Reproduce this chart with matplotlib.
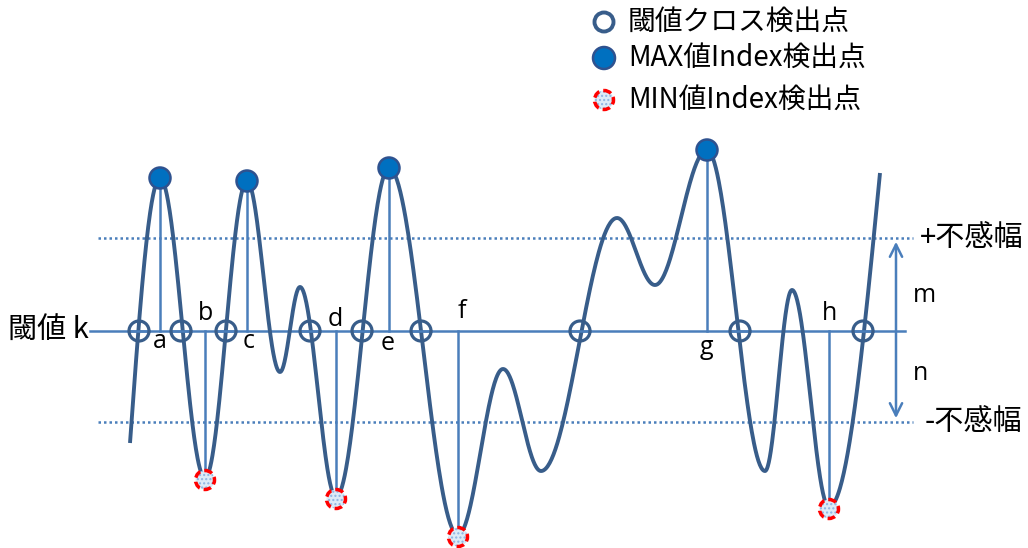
import numpy as np
import matplotlib
matplotlib.use("Agg")
import matplotlib.pyplot as plt
from matplotlib.patches import Circle

plt.rcParams['font.family'] = ['Noto Sans CJK JP', 'DejaVu Sans']

# ---- data (pixel-space diagram coordinates) ----
curve_x = [130, 160, 205, 247, 280, 300, 336, 389, 458, 503, 541, 617, 655, 707, 765, 792, 829, 880]
curve_y = [443, 178, 478, 181, 372, 287, 497, 168, 535, 369, 471, 218, 285, 150, 471, 290, 507, 173]
max_idx = [1, 3, 7, 13]
min_idx = [2, 6, 8, 16]
cross_x = [139, 181, 226, 310, 362, 421, 580, 740, 863]
threshold_y = 331
upper_band_y = 238
lower_band_y = 422
point_labels = ['a', 'b', 'c', 'd', 'e', 'f', 'g', 'h']
label_points = [(160, 342), (205, 314), (249, 342), (335, 320), (388, 343), (462, 312), (706, 348), (830, 314)]
legend_labels = ['閾値クロス検出点', 'MAX値Index検出点', 'MIN値Index検出点']

CURVE = '#385D8A'
LINE = '#4A7EBB'
LATIN = ['Open Sans', 'DejaVu Sans']

fig = plt.figure(figsize=(10.28, 5.48), dpi=100)
ax = fig.add_axes([0, 0, 1, 1])
ax.set_xlim(0, 1028)
ax.set_ylim(548, 0)
ax.axis('off')

# ---- smooth curve between extrema ----
xs_all, ys_all = [], []
n = len(curve_x)
for i in range(n - 1):
    x0, x1 = curve_x[i], curve_x[i + 1]
    y0, y1 = curve_y[i], curve_y[i + 1]
    u = np.linspace(0, 1, 80)
    if i == 0:
        f = np.sin(np.pi / 2 * u)
    elif i == n - 2:
        f = 1 - np.cos(np.pi / 2 * u)
    else:
        f = (1 - np.cos(np.pi * u)) / 2
    xs_all.append(x0 + (x1 - x0) * u)
    ys_all.append(y0 + (y1 - y0) * f)
xs_all = np.concatenate(xs_all)
ys_all = np.concatenate(ys_all)

# bands and threshold
ax.plot([98, 913], [upper_band_y, upper_band_y], color=LINE, lw=1.8, ls=(0, (1, 1.2)), zorder=1)
ax.plot([98, 913], [lower_band_y, lower_band_y], color=LINE, lw=1.8, ls=(0, (1, 1.2)), zorder=1)
ax.plot([90, 905], [threshold_y, threshold_y], color=LINE, lw=1.8, zorder=1)

# vertical lines to extrema
for i in max_idx + min_idx:
    ax.plot([curve_x[i], curve_x[i]], [threshold_y, curve_y[i]], color=LINE, lw=1.8, zorder=1)

ax.plot(xs_all, ys_all, color=CURVE, lw=2.8, zorder=3, solid_capstyle='butt')

# crossing markers
for cx in cross_x:
    ax.add_patch(Circle((cx, threshold_y), 10, facecolor='none', edgecolor=CURVE, lw=2.3, zorder=5))
    ax.plot([cx - 10, cx + 10], [threshold_y, threshold_y], color=LINE, lw=1.8, zorder=4)

def max_marker(x, y, r=10.5):
    ax.add_patch(Circle((x, y), r, facecolor='#0070C0', edgecolor='#2F528F', lw=1.8, zorder=6))

def min_marker(x, y):
    ax.add_patch(Circle((x, y), 9.5, facecolor='#DDEBF7', edgecolor='#8DB4E2', hatch='....', lw=0, zorder=6))
    ax.add_patch(Circle((x, y), 9.5, facecolor='none', edgecolor='#FF0000', lw=2.5, ls=(0, (2.2, 1.2)), zorder=7))

for i in max_idx:
    max_marker(curve_x[i], curve_y[i])
for i in min_idx:
    min_marker(curve_x[i], curve_y[i] + 2)

# point labels
for t, (lx, ly) in zip(point_labels, label_points):
    ax.text(lx, ly, t, fontsize=18, ha='center', va='center', color='black', zorder=8, family=LATIN)

# side texts
ax.text(8, threshold_y, '閾値 k', fontsize=21, ha='left', va='center')
ax.text(920, upper_band_y, '+不感幅', fontsize=21, ha='left', va='center')
ax.text(925, lower_band_y, '-不感幅', fontsize=21, ha='left', va='center')
ax.text(913, 296, 'm', fontsize=18, ha='left', va='center', family=LATIN)
ax.text(913, 373, 'n', fontsize=18, ha='left', va='center', family=LATIN)

# arrow m/n
ax.annotate('', xy=(896, upper_band_y + 1), xytext=(896, lower_band_y - 1),
            arrowprops=dict(arrowstyle='<->', color=LINE, lw=1.8, mutation_scale=22))

# legend
leg_y = [22, 58, 100]
ax.add_patch(Circle((604, leg_y[0]), 9.5, facecolor='white', edgecolor=CURVE, lw=2.8, zorder=6))
max_marker(604, leg_y[1], r=11)
min_marker(604, leg_y[2])
for t, y in zip(legend_labels, leg_y):
    ax.text(628, y, t, fontsize=20, ha='left', va='center')

fig.savefig('out.png', dpi=100)
